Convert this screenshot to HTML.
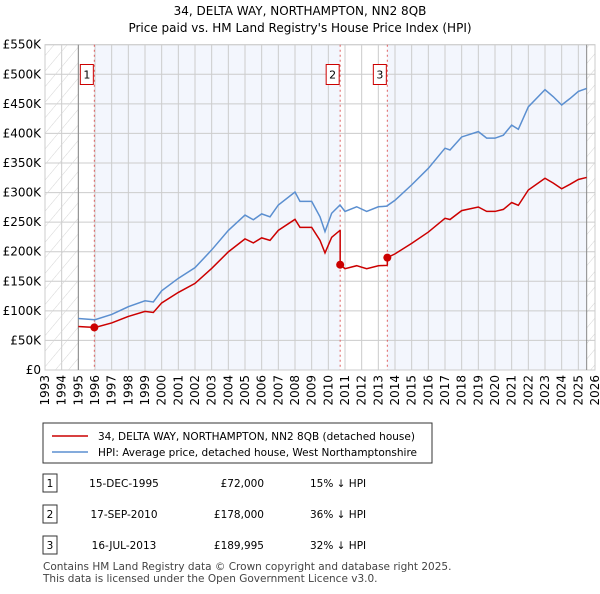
<!DOCTYPE html>
<html><head><meta charset="utf-8"><style>
body{margin:0;background:#fff;font-family:"DejaVu Sans",sans-serif;}
svg text{font-family:"DejaVu Sans","Liberation Sans",sans-serif;}
</style></head><body>
<svg id="c" width="600" height="590" xmlns="http://www.w3.org/2000/svg">
<defs><pattern id="hatch" width="10" height="10" patternUnits="userSpaceOnUse" patternTransform="rotate(40)"><line x1="0" y1="0" x2="0" y2="10" stroke="#d4d4d4" stroke-width="1"/></pattern></defs>
<text x="300" y="15" text-anchor="middle" font-size="12">34, DELTA WAY, NORTHAMPTON, NN2 8QB</text>
<text x="300" y="32" text-anchor="middle" font-size="12">Price paid vs. HM Land Registry's House Price Index (HPI)</text>
<g id="plot"></g>
<rect x="43" y="423" width="389" height="40" fill="#fff" stroke="#333"/>
<line x1="52" y1="436" x2="88" y2="436" stroke="#cc0000" stroke-width="1.5"/>
<text x="98" y="440" font-size="10.5">34, DELTA WAY, NORTHAMPTON, NN2 8QB (detached house)</text>
<line x1="52" y1="452" x2="88" y2="452" stroke="#5b8fd0" stroke-width="1.5"/>
<text x="98" y="456" font-size="10.5">HPI: Average price, detached house, West Northamptonshire</text>
<g id="tbl" font-size="10.5"></g>
<text x="43" y="570" font-size="10.5" fill="#444">Contains HM Land Registry data © Crown copyright and database right 2025.</text>
<text x="43" y="582" font-size="10.5" fill="#444">This data is licensed under the Open Government Licence v3.0.</text>
</svg>
<script>
const hpiYears=[1995,1995.5,1996,1997,1998,1999,1999.5,2000,2001,2002,2003,2004,2005,2005.5,2006,2006.5,2007,2008,2008.3,2009,2009.5,2009.8,2010.2,2010.7,2011,2011.7,2012.3,2013,2013.5,2014,2015,2016,2017,2017.3,2018,2019,2019.5,2020,2020.5,2021,2021.4,2022,2023,2023.5,2024,2024.5,2025,2025.5];
const hpiValues=[87,86,85,94,107,117,115,134,155,173,203,236,262,254,264,259,279,301,285,285,259,234,265,279,268,276,268,276,277,287,313,341,375,372,394,403,392,392,397,414,407,445,474,462,448,459,471,476];
const saleYears=[1995.96,2010.71,2013.54];
const salePrices=[72,178,189.995];
const saleDates=["15-DEC-1995","17-SEP-2010","16-JUL-2013"];
const saleLabels=["£72,000","£178,000","£189,995"];
const saleHpi=["15% ↓ HPI","36% ↓ HPI","32% ↓ HPI"];
const yTicks=[0,50,100,150,200,250,300,350,400,450,500,550];
const NS="http://www.w3.org/2000/svg";
const X0=45,X1=595,Y0=370,Y1=44.7;
const x=y=>X0+(y-1993)/33*(X1-X0);
const yv=v=>Y0-v/550*(Y0-Y1);
function mk(tag,a,p){const e=document.createElementNS(NS,tag);for(const k in a)e.setAttribute(k,a[k]);(p||document.getElementById('plot')).appendChild(e);return e;}
function hpiAt(t){for(let i=1;i<hpiYears.length;i++){if(t<=hpiYears[i]){const f=(t-hpiYears[i-1])/(hpiYears[i]-hpiYears[i-1]);return hpiValues[i-1]+f*(hpiValues[i]-hpiValues[i-1]);}}return hpiValues[hpiValues.length-1];}
let e;
e=mk('rect',{x:X0,y:Y1,width:X1-X0,height:Y0-Y1,fill:'#f3f6fd'});

e=mk('rect',{x:x(1995),y:Y1,width:x(saleYears[0])-x(1995),height:Y0-Y1,fill:'#fff'});

e=mk('rect',{x:x(saleYears[1]),y:Y1,width:x(saleYears[2])-x(saleYears[1]),height:Y0-Y1,fill:'#fff'});

e=mk('rect',{x:X0,y:Y1,width:x(1995)-X0,height:Y0-Y1,fill:'#fff'});

e=mk('rect',{x:x(2025.5),y:Y1,width:X1-x(2025.5),height:Y0-Y1,fill:'#fff'});

for(let yr=1993;yr<=2026;yr++){
 e=mk('line',{x1:x(yr),x2:x(yr),y1:Y1,y2:Y0,stroke:'#ccc','stroke-width':1});
 
 e=mk('text',{transform:`translate(${x(yr)+4},${Y0+5}) rotate(-90)`,'text-anchor':'end','font-size':12});
 e.textContent=yr;
 
}
yTicks.forEach(v=>{
 e=mk('line',{x1:X0,x2:X1,y1:yv(v),y2:yv(v),stroke:'#ccc','stroke-width':1});
 
 e=mk('text',{x:X0-4,y:yv(v)+4,'text-anchor':'end','font-size':12});
 e.textContent=v===0?'£0':'£'+v+'K';
 
});
e=mk('rect',{x:X0,y:Y1,width:x(1995)-X0,height:Y0-Y1,fill:'url(#hatch)'});

e=mk('rect',{x:x(2025.5),y:Y1,width:X1-x(2025.5),height:Y0-Y1,fill:'url(#hatch)'});

e=mk('rect',{x:X0,y:Y1,width:X1-X0,height:Y0-Y1,fill:'none',stroke:'#ccc'});

[1995,2025.5].forEach(t=>{e=mk('line',{x1:x(t),x2:x(t),y1:Y1,y2:Y0,stroke:'#888','stroke-width':1});
 });
saleYears.forEach((t,i)=>{
 e=mk('line',{x1:x(t),x2:x(t),y1:Y1,y2:Y0,stroke:'#e06060','stroke-width':1,'stroke-dasharray':'2,3'});
 
 e=mk('rect',{x:x(t)-14,y:64.5,width:13,height:20,fill:'#fff',stroke:'#cc0000'});
 
 e=mk('text',{x:x(t)-7.5,y:78.5,'text-anchor':'middle','font-size':11});e.textContent=i+1;
 
});
e=mk('polyline',{points:hpiYears.map((t,i)=>x(t)+','+yv(hpiValues[i])).join(' '),fill:'none',stroke:'#5b8fd0','stroke-width':1.5});

let pts=[];
function ratioAt(t){let k=0;for(let i=0;i<saleYears.length;i++)if(t>=saleYears[i])k=i;return salePrices[k]/hpiAt(saleYears[k]);}
let times=hpiYears.concat(saleYears).sort((a,b)=>a-b);
times.forEach(t=>{
 const si=saleYears.indexOf(t);
 if(si>0){pts.push([t,hpiAt(t)*salePrices[si-1]/hpiAt(saleYears[si-1])]);}
 pts.push([t,hpiAt(t)*ratioAt(t)]);
});
e=mk('polyline',{points:pts.map(p=>x(p[0])+','+yv(p[1])).join(' '),fill:'none',stroke:'#cc0000','stroke-width':1.5});

saleYears.forEach((t,i)=>{e=mk('circle',{cx:x(t),cy:yv(salePrices[i]),r:4,fill:'#cc0000'});
 });
const tb=document.getElementById('tbl');
saleYears.forEach((t,i)=>{
 const yy=483+i*31;
 e=mk('rect',{x:43,y:yy-9,width:14,height:18,fill:'#fff',stroke:'#333'},tb);
 
 e=mk('text',{x:50,y:yy+4,'text-anchor':'middle'},tb);e.textContent=i+1;
 
 e=mk('text',{x:124,y:yy+4,'text-anchor':'middle'},tb);e.textContent=saleDates[i];
 
 e=mk('text',{x:264,y:yy+4,'text-anchor':'end'},tb);e.textContent=saleLabels[i];
 
 e=mk('text',{x:310,y:yy+4},tb);e.textContent=saleHpi[i];
 
});
</script>
</body></html>
